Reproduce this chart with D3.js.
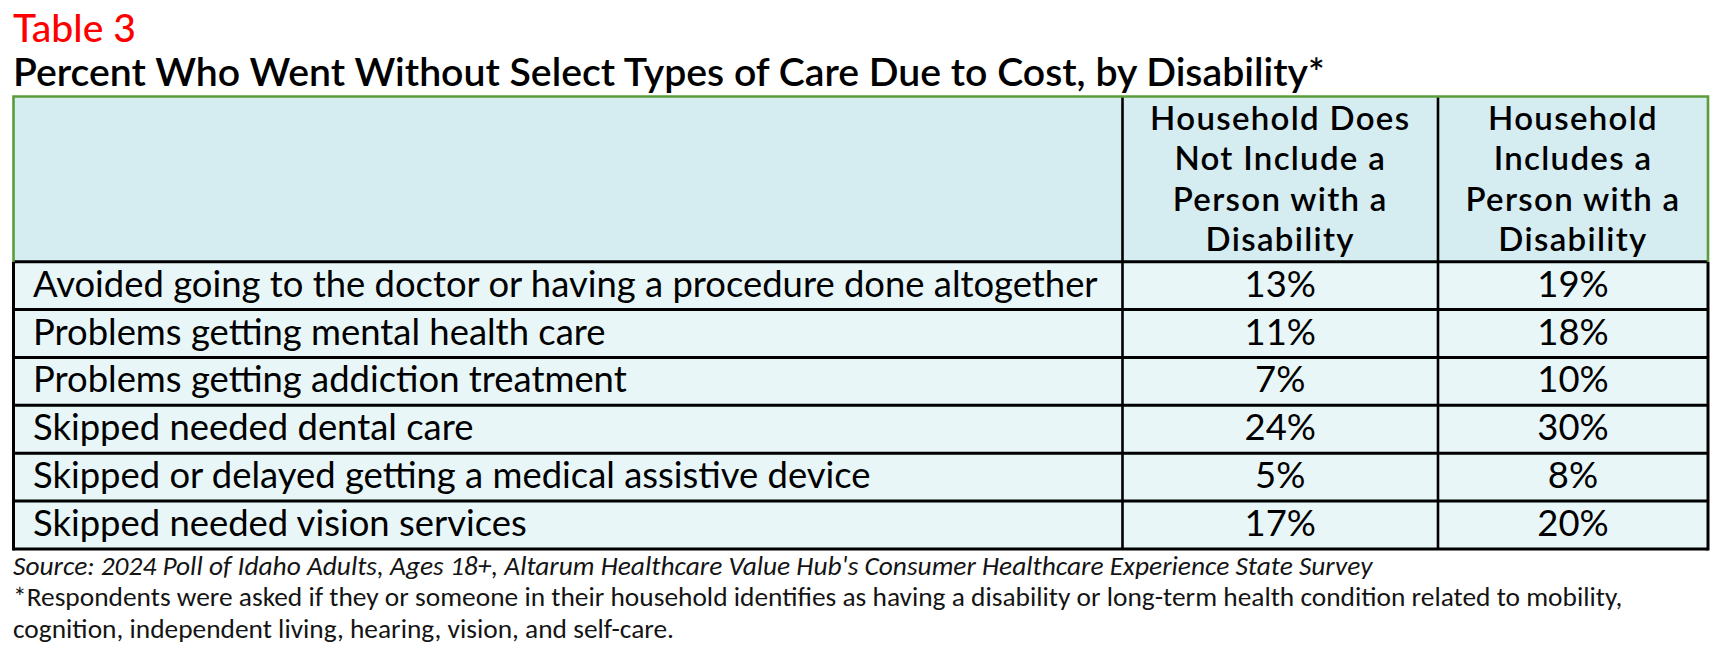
<!DOCTYPE html>
<html>
<head>
<meta charset="utf-8">
<script src="https://cdn.jsdelivr.net/npm/d3@7"></script>
<style>
  body { margin: 0; background: #fff; }
  svg { display: block; }
</style>
</head>
<body>
<svg id="table-chart"></svg>
<script>
// table content
var categories = [
    "Avoided going to the doctor or having a procedure done altogether",
    "Problems getting mental health care",
    "Problems getting addiction treatment",
    "Skipped needed dental care",
    "Skipped or delayed getting a medical assistive device",
    "Skipped needed vision services"
];
var noDisability = [13, 11, 7, 24, 5, 17];
var withDisability = [19, 18, 10, 30, 8, 20];
var columnHeaders = [
    ["Household Does", "Not Include a", "Person with a", "Disability"],
    ["Household", "Includes a", "Person with a", "Disability"]
];
var tableLabel = "Table 3";
var title = "Percent Who Went Without Select Types of Care Due to Cost, by Disability*";
var notes = [
    "Source: 2024 Poll of Idaho Adults, Ages 18+, Altarum Healthcare Value Hub's Consumer Healthcare Experience State Survey",
    "*Respondents were asked if they or someone in their household identifies as having a disability or long-term health condition related to mobility,",
    "cognition, independent living, hearing, vision, and self-care."
];

var width = 1722, height = 653;
var svg = d3.select("#table-chart").attr("width", width).attr("height", height);

// layout
var left = 13.5, right = 1708;
var colEdges = [left, 1122.5, 1438, right];
var headTop = 96.5, headBottom = 261.7, tableBottom = 549;
var mainFont = "Lato, 'Noto Sans', sans-serif";
var noteFont = "Carlito, 'Open Sans', sans-serif";

// fit helper: scale font-size so text reaches a target width
function fitWidth(sel, target) {
    var w = sel.node().getComputedTextLength();
    var fs = parseFloat(sel.attr("font-size"));
    sel.attr("font-size", fs * target / w);
    return fs * target / w;
}

// rows
var y = d3.scaleBand()
    .domain(categories)
    .range([headBottom, tableBottom])
    .padding(0);

// header background
svg.append("rect")
    .attr("x", left).attr("y", headTop)
    .attr("width", right - left).attr("height", headBottom - headTop)
    .attr("fill", "#d5ecf1");

// body backgrounds
svg.selectAll("rect.row")
    .data(categories)
    .enter().append("rect")
    .attr("class", "row")
    .attr("x", left)
    .attr("y", function(d) { return y(d); })
    .attr("width", right - left)
    .attr("height", y.bandwidth())
    .attr("fill", "#e8f6f8");

// titles
var t1 = svg.append("text")
    .attr("x", 13).attr("y", 42)
    .attr("font-family", mainFont).attr("font-size", 37)
    .attr("font-weight", 500)
    .attr("fill", "#ff0000")
    .text(tableLabel);
fitWidth(t1, 123);

var t2 = svg.append("text")
    .attr("x", 13).attr("y", 86)
    .attr("font-family", mainFont).attr("font-size", 32)
    .attr("font-weight", 600)
    .attr("fill", "#000")
    .text(title);
fitWidth(t2, 1312);

// column headers
var headSpacing = null;
columnHeaders.forEach(function(lines, c) {
    var cx = (colEdges[c + 1] + colEdges[c + 2]) / 2;
    var txt = svg.append("text")
        .attr("font-family", mainFont)
        .attr("font-size", 33)
        .attr("font-weight", 600)
        .attr("text-anchor", "middle")
        .attr("fill", "#000");
    lines.forEach(function(line, i) {
        txt.append("tspan")
            .attr("x", cx)
            .attr("y", 130 + i * 40.3)
            .text(line);
    });
    if (headSpacing === null) {
        var w = txt.select("tspan").node().getComputedTextLength();
        headSpacing = Math.max(0, (259 - w) / (lines[0].length - 1));
    }
    txt.attr("letter-spacing", headSpacing);
});

// row labels
var labels = svg.selectAll("text.label")
    .data(categories)
    .enter().append("text")
    .attr("class", "label")
    .attr("x", 33)
    .attr("y", function(d) { return y(d) + y.bandwidth() / 2 + 11; })
    .attr("font-family", mainFont)
    .attr("font-size", 30)
    .attr("fill", "#000")
    .text(function(d) { return d; });
var rowSize = fitWidth(d3.select(labels.node()), 1065);
labels.attr("font-size", rowSize);

// values
[noDisability, withDisability].forEach(function(vals, c) {
    var cx = (colEdges[c + 1] + colEdges[c + 2]) / 2;
    svg.selectAll("text.val" + c)
        .data(vals)
        .enter().append("text")
        .attr("class", "val" + c)
        .attr("x", cx)
        .attr("y", function(d, i) { return y(categories[i]) + y.bandwidth() / 2 + 11; })
        .attr("text-anchor", "middle")
        .attr("font-family", mainFont)
        .attr("font-size", rowSize)
        .attr("fill", "#000")
        .text(function(d) { return d + "%"; });
});

// grid lines
var rowEdges = categories.map(function(d) { return y(d); }).concat([tableBottom]);
svg.selectAll("line.h")
    .data(rowEdges)
    .enter().append("line")
    .attr("x1", left).attr("x2", right)
    .attr("y1", function(d) { return d; }).attr("y2", function(d) { return d; })
    .attr("stroke", "#000").attr("stroke-width", 3);

svg.selectAll("line.v")
    .data(colEdges.slice(1, 3))
    .enter().append("line")
    .attr("x1", function(d) { return d; }).attr("x2", function(d) { return d; })
    .attr("y1", headTop).attr("y2", tableBottom)
    .attr("stroke", "#000").attr("stroke-width", 2.6);

// body outer edges (black)
[left, right].forEach(function(xv) {
    svg.append("line")
        .attr("x1", xv).attr("x2", xv)
        .attr("y1", headBottom).attr("y2", tableBottom + 1.5)
        .attr("stroke", "#000").attr("stroke-width", 3);
});

// header outer edges (green)
svg.append("path")
    .attr("d", "M" + left + "," + headBottom + "V" + headTop + "H" + right + "V" + headBottom)
    .attr("fill", "none")
    .attr("stroke", "#5a9c3a")
    .attr("stroke-width", 2.6);

// notes
var noteSize = null;
notes.forEach(function(n, i) {
    var t = svg.append("text")
        .attr("x", 13)
        .attr("y", 574.5 + i * 31.5)
        .attr("font-family", noteFont)
        .attr("font-size", 25)
        .attr("font-style", i === 0 ? "italic" : "normal")
        .attr("fill", "#141414")
        .text(n);
    if (i === 0) noteSize = fitWidth(t, 1360);
    else t.attr("font-size", noteSize);
});
</script>
</body>
</html>
